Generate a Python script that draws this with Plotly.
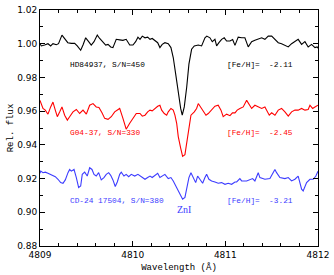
import plotly.graph_objects as go

# HD84937 (black)
wl_hd = [4809.000, 4809.014, 4809.050, 4809.086, 4809.115, 4809.140, 4809.176, 4809.200, 4809.237, 4809.266,
         4809.300, 4809.338, 4809.374, 4809.402, 4809.439, 4809.464, 4809.493, 4809.525, 4809.553, 4809.583,
         4809.618, 4809.644, 4809.680, 4809.709, 4809.734, 4809.763, 4809.787, 4809.823, 4809.860, 4809.895,
         4809.930, 4809.968, 4810.003, 4810.032, 4810.057, 4810.079, 4810.104, 4810.133, 4810.162, 4810.187,
         4810.211, 4810.240, 4810.270, 4810.294, 4810.319, 4810.348, 4810.384, 4810.413, 4810.438, 4810.464,
         4810.492, 4810.518, 4810.535, 4810.557, 4810.583, 4810.607, 4810.636, 4810.665, 4810.708, 4810.744,
         4810.780, 4810.800, 4810.834, 4810.859, 4810.888, 4810.906, 4810.931, 4810.960, 4810.988, 4811.014,
         4811.050, 4811.079, 4811.104, 4811.139, 4811.176, 4811.211, 4811.247, 4811.284, 4811.319, 4811.355,
         4811.392, 4811.427, 4811.463, 4811.500, 4811.535, 4811.571, 4811.607, 4811.643, 4811.679, 4811.715,
         4811.751, 4811.786, 4811.823, 4811.859, 4811.894, 4811.931, 4811.967, 4811.991, 4812.000]
fl_hd = [1.0000, 0.9987, 0.9992, 1.0000, 0.9987, 1.0000, 0.9994, 1.0000, 1.0051, 1.0031,
         1.0006, 1.0002, 1.0002, 0.9987, 0.9961, 0.9992, 1.0035, 1.0012, 0.9992, 1.0012,
         1.0051, 1.0031, 1.0006, 0.9992, 0.9996, 0.9981, 0.9977, 1.0026, 1.0023, 1.0020,
         1.0026, 0.9992, 0.9992, 1.0012, 1.0039, 1.0026, 1.0045, 1.0035, 1.0039, 1.0026,
         1.0031, 1.0016, 1.0006, 0.9977, 0.9996, 1.0006, 1.0000, 0.9977, 0.9918, 0.9821,
         0.9704, 0.9616, 0.9576, 0.9625, 0.9742, 0.9879, 0.9967, 0.9987, 0.9992, 0.9987,
         1.0035, 1.0045, 1.0035, 1.0012, 1.0026, 0.9987, 1.0006, 1.0026, 1.0035, 1.0016,
         1.0016, 1.0025, 0.9990, 1.0039, 1.0035, 1.0035, 0.9981, 1.0012, 1.0020, 1.0026,
         1.0035, 1.0026, 1.0045, 1.0045, 1.0026, 1.0006, 1.0000, 0.9992, 0.9981, 1.0000,
         1.0016, 1.0026, 0.9996, 1.0012, 0.9981, 0.9996, 0.9977, 0.9981, 0.9973]

# G04-37 (red)
wl_g = [4809.000, 4809.008, 4809.032, 4809.057, 4809.086, 4809.115, 4809.140, 4809.165, 4809.187, 4809.213,
        4809.237, 4809.266, 4809.295, 4809.320, 4809.356, 4809.392, 4809.428, 4809.464, 4809.500, 4809.536,
        4809.572, 4809.607, 4809.636, 4809.669, 4809.698, 4809.734, 4809.769, 4809.806, 4809.834, 4809.860,
        4809.895, 4809.930, 4809.968, 4810.003, 4810.039, 4810.057, 4810.079, 4810.104, 4810.133, 4810.162,
        4810.187, 4810.211, 4810.240, 4810.270, 4810.294, 4810.313, 4810.341, 4810.367, 4810.384, 4810.413,
        4810.438, 4810.456, 4810.475, 4810.492, 4810.518, 4810.539, 4810.564, 4810.583, 4810.607, 4810.629,
        4810.665, 4810.690, 4810.708, 4810.733, 4810.762, 4810.791, 4810.816, 4810.852, 4810.888, 4810.923,
        4810.953, 4810.977, 4811.014, 4811.050, 4811.077, 4811.104, 4811.128, 4811.157, 4811.193, 4811.230,
        4811.258, 4811.284, 4811.319, 4811.355, 4811.392, 4811.427, 4811.452, 4811.474, 4811.500, 4811.535,
        4811.571, 4811.607, 4811.643, 4811.679, 4811.715, 4811.751, 4811.786, 4811.823, 4811.859, 4811.894,
        4811.913, 4811.942, 4811.967, 4811.991, 4812.000]
fl_g = [0.9664, 0.9649, 0.9616, 0.9606, 0.9582, 0.9625, 0.9654, 0.9606, 0.9567, 0.9596,
        0.9625, 0.9576, 0.9547, 0.9567, 0.9596, 0.9610, 0.9586, 0.9606, 0.9582, 0.9635,
        0.9645, 0.9625, 0.9622, 0.9590, 0.9557, 0.9551, 0.9567, 0.9596, 0.9606, 0.9616,
        0.9557, 0.9493, 0.9528, 0.9557, 0.9586, 0.9586, 0.9586, 0.9570, 0.9576, 0.9596,
        0.9606, 0.9602, 0.9616, 0.9629, 0.9635, 0.9606, 0.9586, 0.9576, 0.9596, 0.9616,
        0.9606, 0.9576, 0.9528, 0.9449, 0.9381, 0.9332, 0.9342, 0.9411, 0.9508, 0.9576,
        0.9596, 0.9616, 0.9645, 0.9622, 0.9596, 0.9576, 0.9586, 0.9606, 0.9629, 0.9635,
        0.9606, 0.9567, 0.9582, 0.9573, 0.9590, 0.9590, 0.9606, 0.9616, 0.9625, 0.9664,
        0.9641, 0.9616, 0.9635, 0.9625, 0.9616, 0.9625, 0.9596, 0.9576, 0.9590, 0.9576,
        0.9606, 0.9616, 0.9596, 0.9570, 0.9596, 0.9606, 0.9606, 0.9616, 0.9606, 0.9610,
        0.9635, 0.9616, 0.9625, 0.9629, 0.9635]

# CD-24 17504 (blue)
wl_cd = [4809.000, 4809.008, 4809.032, 4809.057, 4809.086, 4809.115, 4809.140, 4809.165, 4809.194, 4809.223,
         4809.248, 4809.273, 4809.302, 4809.320, 4809.338, 4809.367, 4809.392, 4809.417, 4809.439, 4809.456,
         4809.482, 4809.510, 4809.536, 4809.561, 4809.583, 4809.607, 4809.633, 4809.661, 4809.690, 4809.715,
         4809.741, 4809.763, 4809.787, 4809.812, 4809.834, 4809.860, 4809.877, 4809.906, 4809.930, 4809.957,
         4809.985, 4810.022, 4810.057, 4810.079, 4810.104, 4810.133, 4810.162, 4810.187, 4810.211, 4810.240,
         4810.270, 4810.294, 4810.319, 4810.348, 4810.384, 4810.413, 4810.438, 4810.464, 4810.492, 4810.518,
         4810.539, 4810.564, 4810.583, 4810.607, 4810.629, 4810.654, 4810.680, 4810.701, 4810.726, 4810.755,
         4810.780, 4810.798, 4810.823, 4810.852, 4810.888, 4810.923, 4810.960, 4810.996, 4811.031, 4811.068,
         4811.104, 4811.122, 4811.157, 4811.176, 4811.230, 4811.265, 4811.294, 4811.319, 4811.355, 4811.373,
         4811.427, 4811.481, 4811.535, 4811.553, 4811.589, 4811.643, 4811.679, 4811.715, 4811.751, 4811.786,
         4811.823, 4811.840, 4811.877, 4811.913, 4811.948, 4811.977, 4812.000]
fl_cd = [0.9231, 0.9244, 0.9235, 0.9238, 0.9231, 0.9225, 0.9219, 0.9211, 0.9196, 0.9176,
         0.9172, 0.9192, 0.9235, 0.9254, 0.9244, 0.9254, 0.9206, 0.9147, 0.9156, 0.9225,
         0.9238, 0.9215, 0.9264, 0.9254, 0.9225, 0.9215, 0.9235, 0.9192, 0.9206, 0.9225,
         0.9235, 0.9219, 0.9192, 0.9153, 0.9180, 0.9225, 0.9238, 0.9215, 0.9225, 0.9211,
         0.9225, 0.9215, 0.9225, 0.9215, 0.9206, 0.9196, 0.9206, 0.9215, 0.9206, 0.9219,
         0.9231, 0.9206, 0.9215, 0.9225, 0.9200, 0.9206, 0.9186, 0.9156, 0.9127, 0.9098,
         0.9078, 0.9088, 0.9147, 0.9206, 0.9235, 0.9206, 0.9176, 0.9215, 0.9196, 0.9172,
         0.9206, 0.9225, 0.9196, 0.9186, 0.9180, 0.9172, 0.9176, 0.9166, 0.9172, 0.9166,
         0.9180, 0.9180, 0.9200, 0.9186, 0.9186, 0.9196, 0.9200, 0.9186, 0.9235, 0.9206,
         0.9196, 0.9200, 0.9254, 0.9235, 0.9206, 0.9200, 0.9206, 0.9186, 0.9196, 0.9215,
         0.9137, 0.9127, 0.9176, 0.9196, 0.9196, 0.9215, 0.9244]

star_labels = ["HD84937, S/N=450", "G04-37, S/N=330", "CD-24 17504, S/N=380"]
feh_labels = ["[Fe/H]=\u00a0 -2.11", "[Fe/H]=\u00a0 -2.45", "[Fe/H]=\u00a0 -3.21"]
label_y = [0.9875, 0.9471, 0.9069]
colors = ["black", "#ff0000", "#3c3cff"]

x_ticks = [4809, 4810, 4811, 4812]
y_ticks = [0.88, 0.90, 0.92, 0.94, 0.96, 0.98, 1.00, 1.02]

fig = go.Figure()
for wl, fl, c in [(wl_hd, fl_hd, colors[0]), (wl_g, fl_g, colors[1]), (wl_cd, fl_cd, colors[2])]:
    fig.add_trace(go.Scatter(x=wl, y=fl, mode="lines", line=dict(color=c, width=1.1),
                             showlegend=False, hoverinfo="skip"))

mono = "Liberation Mono"
for s, f, yv, c in zip(star_labels, feh_labels, label_y, colors):
    fig.add_annotation(x=4809.297, y=yv, text=s, showarrow=False, xanchor="left", yanchor="middle",
                       font=dict(family=mono, size=7.8, color=c))
    fig.add_annotation(x=4810.996, y=yv, text=f, showarrow=False, xanchor="left", yanchor="middle",
                       font=dict(family=mono, size=7.8, color=c))
fig.add_annotation(x=4810.55, y=0.9018, text="ZnI", showarrow=False, xanchor="center", yanchor="middle",
                   font=dict(family="Liberation Serif", size=10, color=colors[2]))

axis_common = dict(showline=True, linecolor="black", linewidth=1, mirror="allticks", ticks="inside",
                   ticklen=5, tickwidth=1, tickcolor="black", showgrid=False, zeroline=False,
                   automargin=False,
                   tickfont=dict(family="DejaVu Sans", size=9, color="black"))
fig.update_xaxes(range=[4809, 4812], tickvals=x_ticks, ticktext=[str(v) for v in x_ticks],
                 minor=dict(dtick=0.2, ticks="inside", ticklen=3, tickcolor="black", showgrid=False),
                 title=dict(text="Wavelength (Å)", font=dict(family=mono, size=9, color="black"), standoff=4),
                 **axis_common)
fig.update_yaxes(range=[0.88, 1.02], tickvals=y_ticks, ticktext=["%.2f" % v for v in y_ticks],
                 minor=dict(dtick=0.01, ticks="inside", ticklen=3, tickcolor="black", showgrid=False),
                 title=dict(text="Rel. flux", font=dict(family=mono, size=9, color="black"), standoff=2),
                 **axis_common)
fig.update_layout(width=334, height=275, margin=dict(l=40, r=16, t=10, b=29),
                  plot_bgcolor="white", paper_bgcolor="white")
fig.write_html("out.html", config={"displayModeBar": False},
               post_script="document.body.style.margin='0';")
